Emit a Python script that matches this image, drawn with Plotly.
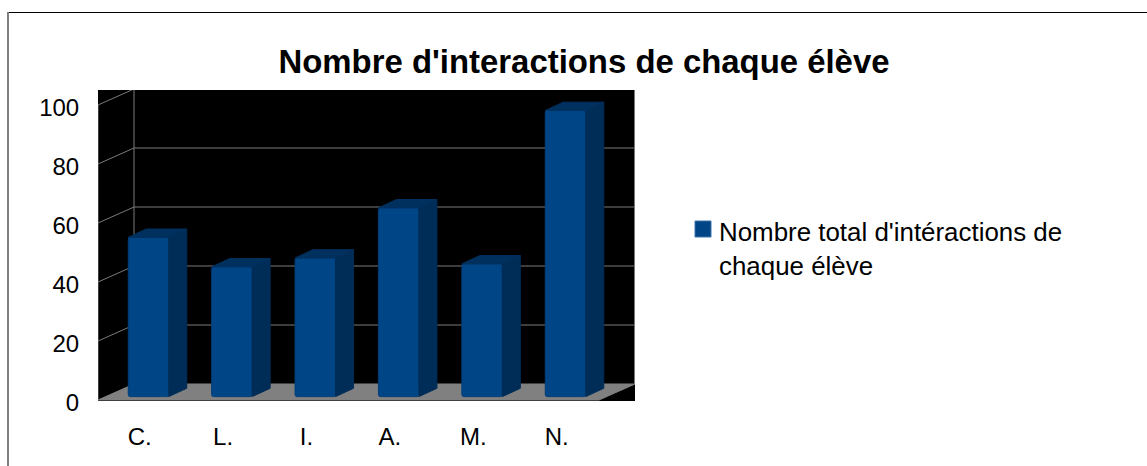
import plotly.graph_objects as go

W, H = 1147, 466
categories = ["C.", "L.", "I.", "A.", "M.", "N."]
values = [54, 44, 47, 64, 45, 97]
y_ticks = [0, 20, 40, 60, 80, 100]
series_name = "Nombre total d'intéractions de<br>chaque élève"
title_text = "Nombre d'interactions de chaque élève"

# plot frame in page pixels
L, R, T, B = 98, 635, 90, 401
PX_Y = 2.95          # px per unit
PX_X = 83.4          # px per category
Y0 = 400             # pixel of value 0 on the front plane
X0 = 139.7           # pixel of first category on the front plane

xr = [(L - X0) / PX_X, (R - X0) / PX_X]
yr = [(Y0 - B) / PX_Y, (Y0 - T) / PX_Y]

def dx(px): return px / PX_X
def dy(px): return px / PX_Y
def pap_x(px): return (px - L) / (R - L)
def pap_y(py): return (B - py) / (B - T)

BLUE, SIDE, TOP_C = "#004586", "#002d58", "#00305e"
GRID, FLOOR = "#7a7a7a", "#808080"

n = len(categories)
wall_dx, wall_dy = dx(36), dy(16)
xmin, xmax = xr
fig = go.Figure()
shapes = []

def seg(x0, y0, x1, y1, width=1):
    shapes.append(dict(type="line", xref="x", yref="y", layer="below",
                       x0=x0, y0=y0, x1=x1, y1=y1, line=dict(color=GRID, width=width)))

# floor
shapes.append(dict(type="path", xref="x", yref="y", layer="below",
    path=f"M {xmin} 0 L {xmin + wall_dx} {wall_dy} L {xmax} {wall_dy} L {xmax - wall_dx} 0 Z",
    fillcolor=FLOOR, line=dict(color=FLOOR, width=1)))

# gridlines on back wall + left wall, and frame lines
for t in y_ticks[1:]:
    seg(xmin, t, xmin + wall_dx, t + wall_dy)
    seg(xmin + wall_dx, t + wall_dy, xmax, t + wall_dy)
seg(xmin + wall_dx, wall_dy, xmin + wall_dx, y_ticks[-1] + wall_dy)
seg(xmax, wall_dy, xmax, y_ticks[-1] + wall_dy, 2)
seg(xmin, 0, xmin, y_ticks[-1], 1)

# 3-D bars
bar_shift, bar_w = dx(8.8), dx(40.5)
base = dy(3.4)
depth_x, depth_y = dx(18), dy(8.3)
xs = [i + bar_shift for i in range(n)]
fig.add_trace(go.Bar(
    x=xs, y=values, base=base, width=bar_w, showlegend=False,
    marker=dict(color=BLUE, line=dict(color="#003e78", width=1), cornerradius=2)))
for xc, v in zip(xs, values):
    x0, x1 = xc - bar_w / 2, xc + bar_w / 2
    top = base + v
    fig.add_trace(go.Scatter(
        x=[x1, x1 + depth_x, x1 + depth_x, x1, x1], y=[base, base + depth_y, top + depth_y, top, base],
        fill="toself", fillcolor=SIDE, mode="lines", line=dict(color=SIDE, width=1),
        hoverinfo="skip", showlegend=False))
    fig.add_trace(go.Scatter(
        x=[x0, x0 + depth_x, x1 + depth_x, x1, x0], y=[top, top + depth_y, top + depth_y, top, top],
        fill="toself", fillcolor=TOP_C, mode="lines", line=dict(color=TOP_C, width=1),
        hoverinfo="skip", showlegend=False))

# page frame and legend swatch
shapes += [
    dict(type="line", xref="paper", yref="paper",
         x0=pap_x(7), x1=pap_x(W), y0=pap_y(12.5), y1=pap_y(12.5),
         line=dict(color="black", width=1.2)),
    dict(type="line", xref="paper", yref="paper",
         x0=pap_x(8), x1=pap_x(8), y0=pap_y(12), y1=pap_y(H),
         line=dict(color="#808080", width=2)),
    dict(type="rect", xref="paper", yref="paper",
         x0=pap_x(695), x1=pap_x(711), y0=pap_y(221), y1=pap_y(237),
         fillcolor=BLUE, line=dict(color="#3f74a8", width=1)),
]

fig.update_layout(
    width=W, height=H, autosize=False, showlegend=False,
    margin=dict(l=L, r=W - R, t=T, b=H - B),
    paper_bgcolor="white", plot_bgcolor="black",
    font=dict(family="Liberation Sans", size=24, color="black"),
    title=dict(text="<b>" + title_text + "</b>", font=dict(size=32.9, color="black"),
               x=584 / W, xanchor="center", y=1 - 61 / H, yanchor="middle"),
    xaxis=dict(range=xr, tickmode="array", tickvals=list(range(n)), ticktext=categories,
               showgrid=False, zeroline=False, showline=False,
               ticks="outside", ticklen=14, tickcolor="rgba(0,0,0,0)", fixedrange=True),
    yaxis=dict(range=yr, tickmode="array", tickvals=y_ticks, ticklabelshift=3,
               showgrid=False, zeroline=False, showline=False,
               ticks="outside", ticklen=13, tickcolor="rgba(0,0,0,0)", fixedrange=True),
    annotations=[dict(text=series_name, xref="paper", yref="paper", x=pap_x(717), y=pap_y(215.5),
                      xanchor="left", yanchor="top", align="left", showarrow=False,
                      font=dict(size=25.9, color="black"))],
    shapes=shapes,
)
fig.write_html("out.html", config=dict(displayModeBar=False),
               post_script="document.body.style.margin='0';")
